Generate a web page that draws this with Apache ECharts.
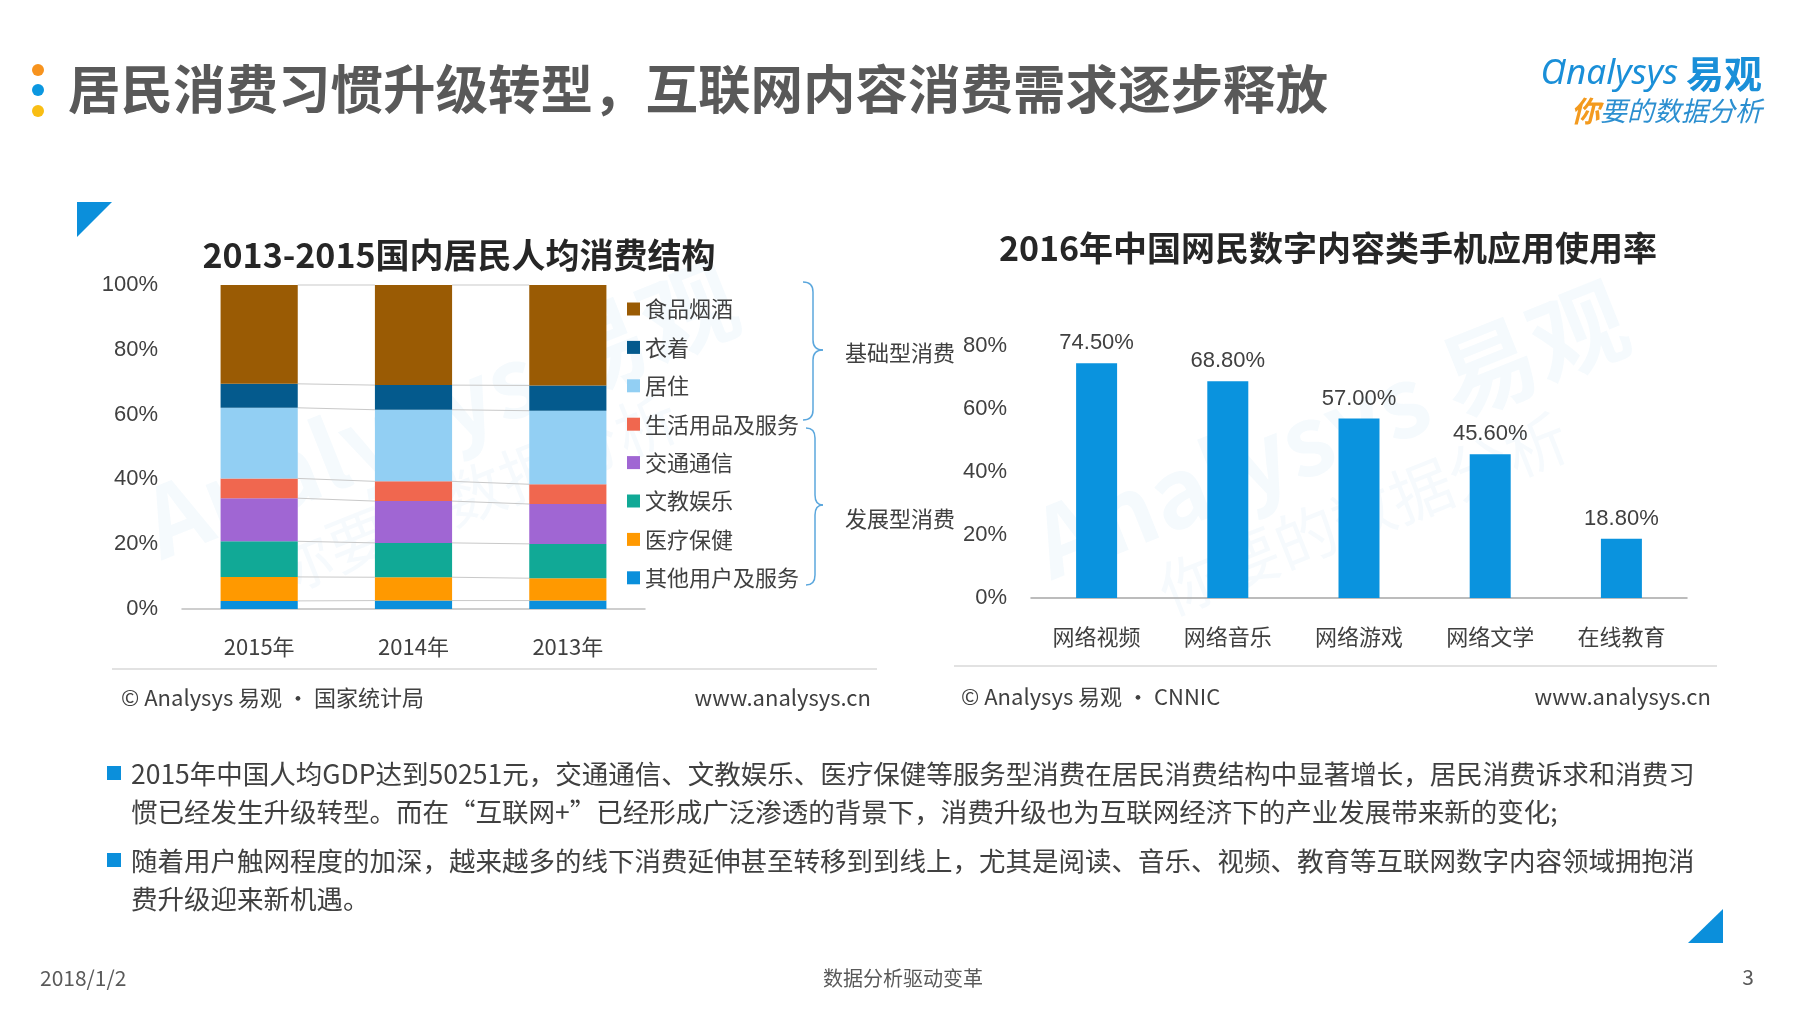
<!DOCTYPE html>
<html>
<head>
<meta charset="utf-8">
<title>居民消费习惯升级转型，互联网内容消费需求逐步释放</title>
<script src="https://cdn.jsdelivr.net/npm/echarts@6.0.0/dist/echarts.min.js"></script>
<style>
  html, body { margin: 0; padding: 0; background: #fff; }
  #main { width: 1800px; height: 1013px; }
</style>
</head>
<body>
<div id="main"></div>
<script>
// left chart: per-capita consumption structure, share in %
var years = ['2015年', '2014年', '2013年'];
var foodShare = [30.6, 31.0, 31.2];       // 食品烟酒
var clothingShare = [7.4, 7.6, 7.8];      // 衣着
var housingShare = [21.8, 22.1, 22.7];    // 居住
var householdShare = [6.1, 6.1, 6.1];     // 生活用品及服务
var transportShare = [13.3, 12.9, 12.3];  // 交通通信
var eduShare = [11.0, 10.6, 10.6];        // 文教娱乐
var healthShare = [7.4, 7.2, 6.9];        // 医疗保健
var otherShare = [2.5, 2.6, 2.6];         // 其他用户及服务
var leftTicks = [0, 100, 20];             // min, max, step

// right chart: 2016 mobile content app usage rate, %
var appNames = ['网络视频', '网络音乐', '网络游戏', '网络文学', '在线教育'];
var appUsage = [74.5, 68.8, 57.0, 45.6, 18.8];
var rightTicks = [0, 80, 20];

var FONT = '"Noto Sans CJK SC", "Noto Sans", sans-serif';
var NUMFONT = '"Liberation Sans", "Noto Sans CJK SC", sans-serif';
var TEXT = '#404040';

// bottom of stack first
var stackNames = ['其他用户及服务', '医疗保健', '文教娱乐', '交通通信', '生活用品及服务', '居住', '衣着', '食品烟酒'];
var stackData = [otherShare, healthShare, eduShare, transportShare, householdShare, housingShare, clothingShare, foodShare];
var stackColors = ['#0A8FDB', '#FF9900', '#11A996', '#A066D3', '#F0674F', '#92CFF3', '#045A8D', '#9A5B04'];

// cumulative tops per year, used for the thin connector lines
var cumulative = years.map(function (y, i) {
    var sum = 0;
    return stackData.map(function (arr) {
        sum += arr[i];
        return Math.min(sum, leftTicks[1]);
    });
});

var chart = echarts.init(document.getElementById('main'));

var barSeries = stackNames.map(function (name, k) {
    return {
        name: name,
        type: 'bar',
        stack: 'total',
        xAxisIndex: 0,
        yAxisIndex: 0,
        barWidth: '50%',
        itemStyle: { color: stackColors[k] },
        data: stackData[k],
        silent: true
    };
});

// connector lines between neighbouring bars
barSeries.push({
    type: 'custom',
    xAxisIndex: 0,
    yAxisIndex: 0,
    silent: true,
    z: 1,
    data: years.slice(0, -1).map(function (y, i) { return [i, 0]; }),
    encode: { x: 0, y: 1 },
    renderItem: function (params, api) {
        var i = api.value(0);
        var half = api.size([1, 0])[0] * 0.25;
        var lines = [];
        for (var k = 0; k < cumulative[i].length; k++) {
            var a = api.coord([i, cumulative[i][k]]);
            var b = api.coord([i + 1, cumulative[i + 1][k]]);
            lines.push({
                type: 'line',
                shape: { x1: a[0] + half, y1: a[1], x2: b[0] - half, y2: b[1] },
                style: { stroke: '#c9c9c9', lineWidth: 1 }
            });
        }
        return { type: 'group', children: lines };
    }
});

barSeries.push({
    name: '使用率',
    type: 'bar',
    xAxisIndex: 1,
    yAxisIndex: 1,
    barWidth: 41,
    itemStyle: { color: '#0A93DE' },
    label: {
        show: true,
        position: 'top',
        distance: 9,
        color: TEXT,
        fontSize: 22,
        fontFamily: NUMFONT,
        formatter: function (p) { return p.value.toFixed(2) + '%'; }
    },
    data: appUsage,
    silent: true
});

function txt(x, y, text, size, opts) {
    opts = opts || {};
    return {
        type: 'text',
        x: x,
        y: y,
        z: 10,
        silent: true,
        style: {
            text: text,
            fill: opts.color || TEXT,
            fontSize: size,
            fontFamily: opts.family || FONT,
            fontWeight: opts.weight || 'normal',
            fontStyle: opts.style || 'normal',
            align: opts.align || 'left',
            verticalAlign: 'middle',
            rich: opts.rich
        }
    };
}

function watermark(x, y, rot) {
    return {
        type: 'group',
        x: x,
        y: y,
        rotation: rot,
        z: -5,
        silent: true,
        children: [
            { type: 'text', style: { text: 'Analysys 易观', fill: 'rgba(20,140,215,0.045)', fontSize: 96, fontFamily: FONT, fontWeight: 'bold', align: 'center', verticalAlign: 'middle' } },
            { type: 'text', y: 90, style: { text: '你要的数据分析', fill: 'rgba(20,140,215,0.04)', fontSize: 62, fontFamily: FONT, align: 'center', verticalAlign: 'middle' } }
        ]
    };
}

var braceColor = '#5BA7DD';

// right-pointing curly brace from top to bottom, tip at mid
function brace(x0, xv, xt, top, mid, bottom) {
    var st = { stroke: braceColor, lineWidth: 1.5, fill: null };
    var r = 10;
    return {
        type: 'group',
        silent: true,
        children: [
            { type: 'bezierCurve', shape: { x1: x0, y1: top, cpx1: xv, cpy1: top, x2: xv, y2: top + r }, style: st },
            { type: 'line', shape: { x1: xv, y1: top + r, x2: xv, y2: mid - r }, style: st },
            { type: 'bezierCurve', shape: { x1: xv, y1: mid - r, cpx1: xv, cpy1: mid, x2: xt, y2: mid }, style: st },
            { type: 'bezierCurve', shape: { x1: xt, y1: mid, cpx1: xv, cpy1: mid, x2: xv, y2: mid + r }, style: st },
            { type: 'line', shape: { x1: xv, y1: mid + r, x2: xv, y2: bottom - r }, style: st },
            { type: 'bezierCurve', shape: { x1: xv, y1: bottom - r, cpx1: xv, cpy1: bottom, x2: x0, y2: bottom }, style: st }
        ]
    };
}

var graphics = [
    watermark(440, 410, 0.38),
    watermark(1330, 430, 0.38),
    // title dots
    { type: 'circle', shape: { cx: 38, cy: 70, r: 6 }, style: { fill: '#F7931E' } },
    { type: 'circle', shape: { cx: 38, cy: 90, r: 6 }, style: { fill: '#0B97E0' } },
    { type: 'circle', shape: { cx: 38, cy: 111, r: 6 }, style: { fill: '#F9BE14' } },
    txt(68, 89, '居民消费习惯升级转型，互联网内容消费需求逐步释放', 52.5, { weight: 'bold', color: '#595959' }),
    // logo
    txt(1762, 74, '{a|Ɑnalysys} {b|易观}', 35, {
        align: 'right',
        rich: {
            a: { fontSize: 35, fill: '#1A8FD8', fontFamily: '"Noto Sans", sans-serif', fontStyle: 'italic' },
            b: { fontSize: 38, fill: '#1A8FD8', fontWeight: 'bold', fontFamily: FONT }
        }
    }),
    txt(1762, 111, '{o|你}{g|要的数据分析}', 27, {
        align: 'right',
        rich: {
            o: { fontSize: 29, fill: '#F39A1E', fontStyle: 'italic', fontWeight: 'bold', fontFamily: FONT },
            g: { fontSize: 27, fill: '#2C8FD0', fontStyle: 'italic', fontFamily: FONT }
        }
    }),
    // corner triangles
    { type: 'polygon', shape: { points: [[77, 202], [112, 202], [77, 237]] }, style: { fill: '#0B8FDB' } },
    { type: 'polygon', shape: { points: [[1723, 909], [1723, 943], [1688, 943]] }, style: { fill: '#0B8FDB' } },
    // chart titles
    txt(459, 255, '2013-2015国内居民人均消费结构', 34, { weight: 'bold', align: 'center', color: '#262626' }),
    txt(1328, 248, '2016年中国网民数字内容类手机应用使用率', 34, { weight: 'bold', align: 'center', color: '#262626' }),
    // braces
    brace(803, 813, 823, 282, 350, 420),
    brace(806, 815, 823, 428, 505, 585),
    txt(845, 353, '基础型消费', 22),
    txt(845, 519, '发展型消费', 22),
    // separators and sources
    { type: 'line', shape: { x1: 112, y1: 669, x2: 877, y2: 669 }, style: { stroke: '#d9d9d9', lineWidth: 1.5 } },
    { type: 'line', shape: { x1: 954, y1: 666, x2: 1717, y2: 666 }, style: { stroke: '#d9d9d9', lineWidth: 1.5 } },
    txt(121, 698, '© Analysys 易观 · 国家统计局', 22),
    txt(871, 698, 'www.analysys.cn', 22, { align: 'right' }),
    txt(961, 697, '© Analysys 易观 · CNNIC', 22),
    txt(1711, 697, 'www.analysys.cn', 22, { align: 'right' }),
    // notes
    { type: 'rect', shape: { x: 107, y: 766, width: 14, height: 14 }, style: { fill: '#0B8FDB' } },
    { type: 'rect', shape: { x: 107, y: 853, width: 14, height: 14 }, style: { fill: '#0B8FDB' } },
    txt(131, 774, '2015年中国人均GDP达到50251元，交通通信、文教娱乐、医疗保健等服务型消费在居民消费结构中显著增长，居民消费诉求和消费习', 26.5),
    txt(131, 812, '惯已经发生升级转型。而在“互联网+”已经形成广泛渗透的背景下，消费升级也为互联网经济下的产业发展带来新的变化;', 26.5),
    txt(131, 861, '随着用户触网程度的加深，越来越多的线下消费延伸甚至转移到到线上，尤其是阅读、音乐、视频、教育等互联网数字内容领域拥抱消', 26.5),
    txt(131, 899, '费升级迎来新机遇。', 26.5),
    // footer
    txt(40, 978, '2018/1/2', 21, { color: '#595959' }),
    txt(903, 978, '数据分析驱动变革', 20, { align: 'center', color: '#595959' }),
    txt(1754, 977, '3', 21, { align: 'right', color: '#595959' })
];

var option = {
    backgroundColor: '#fff',
    animation: false,
    textStyle: { fontFamily: FONT },
    legend: {
        data: stackNames.slice().reverse(),
        orient: 'vertical',
        left: 627,
        top: 297,
        padding: 0,
        icon: 'rect',
        itemWidth: 13,
        itemHeight: 13,
        itemGap: 14.4,
        selectedMode: false,
        textStyle: { fontSize: 22, lineHeight: 24, color: TEXT, fontFamily: FONT }
    },
    grid: [
        { left: 182, width: 463, top: 285, height: 324 },
        { left: 1031, width: 656, top: 346, height: 252 }
    ],
    xAxis: [
        {
            gridIndex: 0,
            type: 'category',
            data: years,
            axisTick: { show: false },
            axisLine: { lineStyle: { color: '#bfbfbf', width: 1.5 } },
            axisLabel: { margin: 27, fontSize: 22, color: TEXT, fontFamily: FONT }
        },
        {
            gridIndex: 1,
            type: 'category',
            data: appNames,
            axisTick: { show: false },
            axisLine: { lineStyle: { color: '#a6a6a6', width: 1.5 } },
            axisLabel: { margin: 28, fontSize: 22, color: TEXT, fontFamily: FONT }
        }
    ],
    yAxis: [
        {
            gridIndex: 0,
            type: 'value',
            min: leftTicks[0],
            max: leftTicks[1],
            interval: leftTicks[2],
            splitLine: { show: false },
            axisLine: { show: false },
            axisTick: { show: false },
            axisLabel: { margin: 24, fontSize: 22, color: TEXT, fontFamily: NUMFONT, formatter: '{value}%' }
        },
        {
            gridIndex: 1,
            type: 'value',
            min: rightTicks[0],
            max: rightTicks[1],
            interval: rightTicks[2],
            splitLine: { show: false },
            axisLine: { show: false },
            axisTick: { show: false },
            axisLabel: { margin: 24, fontSize: 22, color: TEXT, fontFamily: NUMFONT, formatter: '{value}%' }
        }
    ],
    series: barSeries,
    graphic: graphics
};

chart.setOption(option);
window.addEventListener('resize', function () { chart.resize(); });
</script>
</body>
</html>
